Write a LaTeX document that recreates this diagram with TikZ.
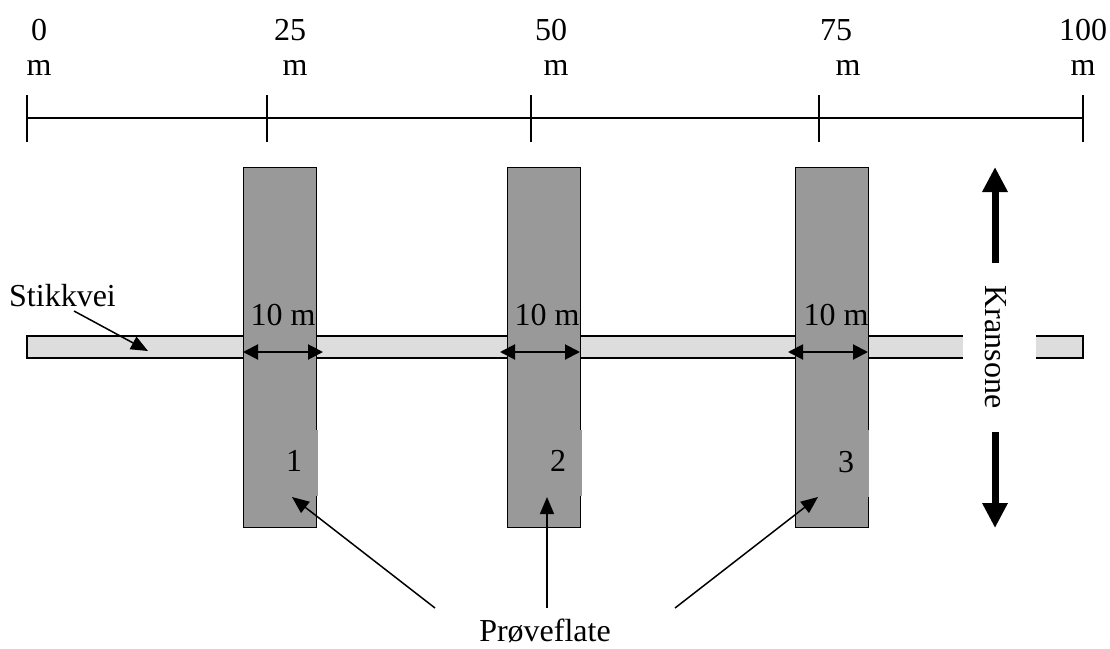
\documentclass[tikz,border=0pt]{standalone}
\usepackage{fontspec}
\setmainfont{Liberation Serif}
\usetikzlibrary{arrows.meta}
\begin{document}
\begin{tikzpicture}[x=1pt,y=-1pt,
  every node/.style={font=\fontsize{32}{38}\selectfont, inner sep=0pt},
  lbl/.style={anchor=base},
  scaleline/.style={line width=1.6pt},
  plot/.style={draw=black, fill=plotgray, line width=1.4pt, minimum width=73pt, minimum height=360pt, anchor=north west},
  road/.style={draw=black, fill=roadgray, line width=1.4pt},
  dimarrow/.style={line width=2pt, {Triangle[length=15pt,width=15pt]}-{Triangle[length=15pt,width=15pt]}},
  pointer/.style={line width=1.5pt, -{Triangle[length=17pt,width=14pt]}},
  bigarrow/.style={line width=7pt, -{Triangle[length=25pt,width=24pt]}},
  gap/.style={fill=plotgray, draw=none}
]
\definecolor{plotgray}{RGB}{153,153,153}
\definecolor{roadgray}{RGB}{221,221,221}
\useasboundingbox (0,0) rectangle (1110,648);
\fill[white] (0,0) rectangle (1110,648);

% scale
\coordinate (s0) at (27,118);
\coordinate (s100) at (1083,118);
\draw[scaleline] (s0) -- (s100);
\foreach \x in {27,267,531,819,1083}{
  \draw[scaleline] (\x,95) -- (\x,142);
}
\node[lbl] (n0) at (39,40) {0};
\node[lbl] (m0) at (39,75) {m};
\node[lbl] (n25) at (290,40) {25};
\node[lbl] (m25) at (295,75) {m};
\node[lbl] (n50) at (551,40) {50};
\node[lbl] (m50) at (556,75) {m};
\node[lbl] (n75) at (836,40) {75};
\node[lbl] (m75) at (848,75) {m};
\node[lbl] (n100) at (1083,40) {100};
\node[lbl] (m100) at (1083,75) {m};

% road
\draw[road] (27,336) rectangle (1083,358);
\fill[white] (963,334) rectangle (1036,360);

% plots
\node[plot] (p1) at (243,167) {};
\node[plot] (p2) at (507,167) {};
\node[plot] (p3) at (795,167) {};

% gaps on right edges
\fill[gap] (308,430) rectangle (317.5,496);
\fill[gap] (572,430) rectangle (581.5,496);
\fill[gap] (859,430) rectangle (868.5,497);

% plot numbers
\node[lbl] (l1) at (294,471) {1};
\node[lbl] (l2) at (558,471) {2};
\node[lbl] (l3) at (846,472) {3};

% width labels and arrows
\node[lbl] (w1) at (283,325) {10 m};
\node[lbl] (w2) at (547,325) {10 m};
\node[lbl] (w3) at (836,325) {10 m};
\coordinate (a1l) at (243,352); \coordinate (a1r) at (323,352);
\coordinate (a2l) at (500,352); \coordinate (a2r) at (580,352);
\coordinate (a3l) at (788,352); \coordinate (a3r) at (868,352);
\draw[dimarrow] (a1l) -- (a1r);
\draw[dimarrow] (a2l) -- (a2r);
\draw[dimarrow] (a3l) -- (a3r);

% Stikkvei
\node[lbl, anchor=base west] (stikk) at (9,306) {Stikkvei};
\coordinate (sk0) at (74,311);
\coordinate (sk1) at (148,351);
\draw[pointer] (sk0) -- (sk1);

% Kransone
\node[rotate=-90] (krans) at (996,347) {Kransone};
\coordinate (ku0) at (995,263); \coordinate (ku1) at (995,167);
\coordinate (kd0) at (995,432); \coordinate (kd1) at (995,528);
\draw[bigarrow] (ku0) -- (ku1);
\draw[bigarrow] (kd0) -- (kd1);

% Proveflate
\node[lbl] (prove) at (545,641) {Prøveflate};
\coordinate (pa1) at (435,608); \coordinate (pt1) at (292,497);
\coordinate (pa2) at (547,608); \coordinate (pt2) at (547,497);
\coordinate (pa3) at (675,608); \coordinate (pt3) at (818,497);
\draw[pointer] (pa1) -- (pt1);
\draw[pointer] (pa2) -- (pt2);
\draw[pointer] (pa3) -- (pt3);
\end{tikzpicture}
\end{document}
